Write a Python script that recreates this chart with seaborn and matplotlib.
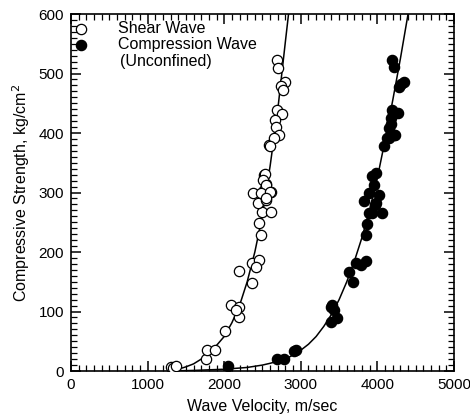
import numpy as np
import pandas as pd
import seaborn as sns
import matplotlib.pyplot as plt
from matplotlib.ticker import MultipleLocator

# dados
shear_v = [1301, 1332, 1370, 1758, 1780, 1880, 2010, 2085, 2193, 2193, 2158, 2193,
           2359, 2359, 2454, 2411, 2476, 2454, 2498, 2607, 2445, 2542, 2380, 2520,
           2607, 2542, 2520, 2585, 2694, 2702, 2789, 2737, 2772, 2694, 2750, 2659,
           2680, 2715, 2650, 2594, 2529, 2506, 2542, 2476, 2594, 2542]
shear_s = [7, 5, 8, 21, 35, 36, 68, 111, 108, 91, 102, 168,
           148, 181, 187, 175, 229, 248, 268, 268, 283, 287, 299, 304,
           301, 315, 329, 380, 523, 510, 486, 479, 472, 439, 432, 422,
           410, 397, 391, 379, 331, 321, 313, 300, 301, 291]

comp_v = [2054, 2694, 2781, 2911, 2942, 3390, 3433, 3390, 3477, 3411, 3681, 3629,
          3716, 3782, 3847, 3856, 3869, 3825, 3934, 3978, 4056, 3890, 3969, 3890,
          4021, 3956, 3934, 3978, 4086, 4130, 4217, 4173, 4204, 4273, 4304, 4347,
          4282, 4187, 4217, 4195, 4173, 4152, 4230, 4152]
comp_s = [8, 21, 21, 34, 35, 108, 103, 83, 89, 111, 150, 167,
          181, 178, 185, 229, 247, 285, 265, 282, 266, 265, 279, 299,
          296, 313, 327, 333, 378, 391, 397, 416, 436, 433, 483, 486,
          478, 523, 511, 439, 425, 408, 397, 391]

shear_fit_v = [1300, 1400, 1500, 1600, 1700, 1800, 1900, 2000, 2100, 2200, 2300, 2400,
               2500, 2600, 2700, 2800, 2840]
shear_fit_s = [0, 3, 7, 12, 20, 30, 43, 58, 81, 110, 150, 200,
               262, 345, 440, 555, 600]
comp_fit_v = [1300, 1600, 2000, 2300, 2500, 2600, 2800, 2900, 3000, 3100, 3200, 3300, 3400,
              3500, 3600, 3700, 3800, 3900, 4000, 4100, 4200, 4300, 4400]
comp_fit_s = [0, 1, 3, 6, 10, 13, 20, 27, 35, 45, 58, 75, 95,
              120, 150, 185, 225, 272, 325, 388, 455, 525, 600]

sns.set_style("ticks")
plt.rcParams['font.family'] = ['Liberation Sans', 'DejaVu Sans']
plt.rcParams['text.color'] = 'black'
plt.rcParams['axes.labelcolor'] = 'black'
plt.rcParams['axes.edgecolor'] = 'black'

fig = plt.figure(figsize=(4.7, 4.18), dpi=100)
ax = fig.add_axes([0.151, 0.1124, 0.815, 0.854])

sns.lineplot(x=shear_fit_v, y=shear_fit_s, ax=ax, color='black', lw=1.1, sort=False)
sns.lineplot(x=comp_fit_v, y=comp_fit_s, ax=ax, color='black', lw=1.1, sort=False)

df_s = pd.DataFrame({'v': shear_v, 's': shear_s})
df_c = pd.DataFrame({'v': comp_v, 's': comp_s})
sns.scatterplot(data=df_s, x='v', y='s', ax=ax, s=55, facecolor='white',
                edgecolor='black', linewidth=0.9, label='Shear Wave', zorder=3)
sns.scatterplot(data=df_c, x='v', y='s', ax=ax, s=55, color='black',
                edgecolor='black', linewidth=0.9, label='Compression Wave', zorder=3)

ax.set_xlim(0, 5000)
ax.set_ylim(0, 600)
ax.xaxis.set_major_locator(MultipleLocator(1000))
ax.xaxis.set_minor_locator(MultipleLocator(100))
ax.yaxis.set_major_locator(MultipleLocator(100))
ax.yaxis.set_minor_locator(MultipleLocator(10))
ax.tick_params(which='both', direction='in', top=True, right=True, colors='black',
               labelsize=11)
ax.tick_params(which='major', length=7, width=1.1, pad=5)
ax.tick_params(which='minor', length=4, width=0.9)
for sp in ax.spines.values():
    sp.set_linewidth(1.2)
    sp.set_color('black')

ax.set_xlabel('Wave Velocity, m/sec', fontsize=11.5, labelpad=5)
ax.set_ylabel('Compressive Strength, kg/cm$^2$', fontsize=11.5, labelpad=5)

leg = ax.legend(loc='upper left', frameon=False, fontsize=11.5, handlelength=1.0,
                handletextpad=1.8, borderaxespad=0.2, labelspacing=0.1,
                bbox_to_anchor=(-0.02, 1.008))
ax.text(0.128, 0.866, '(Unconfined)', transform=ax.transAxes, fontsize=11.5, va='center')

fig.savefig('out.png', dpi=100)
